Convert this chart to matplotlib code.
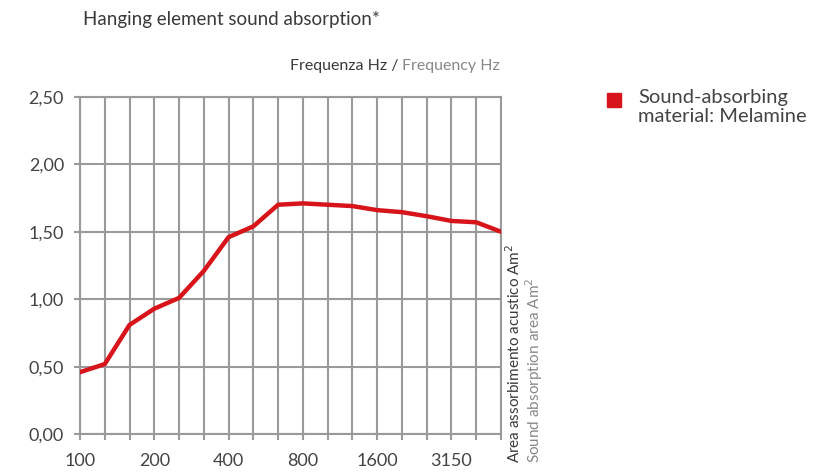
import matplotlib.pyplot as plt

# third-octave bands
freqs = [100, 125, 160, 200, 250, 315, 400, 500, 630, 800, 1000, 1250,
         1600, 2000, 2500, 3150, 4000, 5000]
area = [0.46, 0.52, 0.81, 0.93, 1.01, 1.21, 1.46, 1.54, 1.70, 1.71, 1.70, 1.69,
        1.66, 1.645, 1.615, 1.58, 1.57, 1.50]
shown = [100, 200, 400, 800, 1600, 3150]
yticks = [0, 0.5, 1.0, 1.5, 2.0, 2.5]
ylabels = ["0,00", "0,50", "1,00", "1,50", "2,00", "2,50"]

plt.rcParams['font.family'] = ['Lato', 'DejaVu Sans']
grey = "#9a9a9a"
red = "#d7141a"
dark = "#3a3a3a"

fig = plt.figure(figsize=(8.17, 4.72), dpi=100)
ax = fig.add_axes([80/817, 1-434.3/472, 421/817, 337.6/472])

x = list(range(len(freqs)))
ax.plot(x, area, color=red, linewidth=3.2, solid_capstyle='round', zorder=3)

ax.set_xlim(0, len(freqs)-1)
ax.set_ylim(0, 2.5)
ax.set_xticks(x)
ax.set_xticklabels([str(f) if f in shown else "" for f in freqs])
ax.set_yticks(yticks)
ax.set_yticklabels(ylabels)
ax.grid(True, color=grey, linewidth=1.5)
for s in ax.spines.values():
    s.set_color(grey)
    s.set_linewidth(1.5)
ax.tick_params(axis='both', colors=grey, width=1.5, length=4.5, labelsize=13,
               labelcolor="#444444")
ax.tick_params(axis='x', pad=9)
ax.tick_params(axis='y', pad=7)

fig.text(83/817, 1-20/472, "Hanging element sound absorption*", fontsize=13.5,
         color=dark, va='center', ha='left')

# axis title above the plot: two colours, right aligned
t2 = fig.text(500/817, 1-66/472, "Frequency Hz", fontsize=11.5, color="#888888",
              ha='right', va='center')
fig.canvas.draw()
bb = t2.get_window_extent()
fig.text(bb.x0/fig.bbox.width, 1-66/472, "Frequenza Hz / ", fontsize=11.5,
         color=dark, ha='right', va='center')

fig.text(514/817, 1-463/472, "Area assorbimento acustico Am$^2$", rotation=90,
         fontsize=11, color=dark, ha='center', va='bottom')
fig.text(534/817, 1-463/472, "Sound absorption area Am$^2$", rotation=90,
         fontsize=11, color="#888888", ha='center', va='bottom')

fig.patches.append(plt.Rectangle((607/817, 1-107/472), 14/817, 14/472,
                                 transform=fig.transFigure, color=red))
fig.text(638/817, 1-89/472, "Sound-absorbing\nmaterial: Melamine", fontsize=14.5,
         color="#444444", ha='left', va='top', linespacing=1.15)

fig.savefig("out.png", dpi=100)
